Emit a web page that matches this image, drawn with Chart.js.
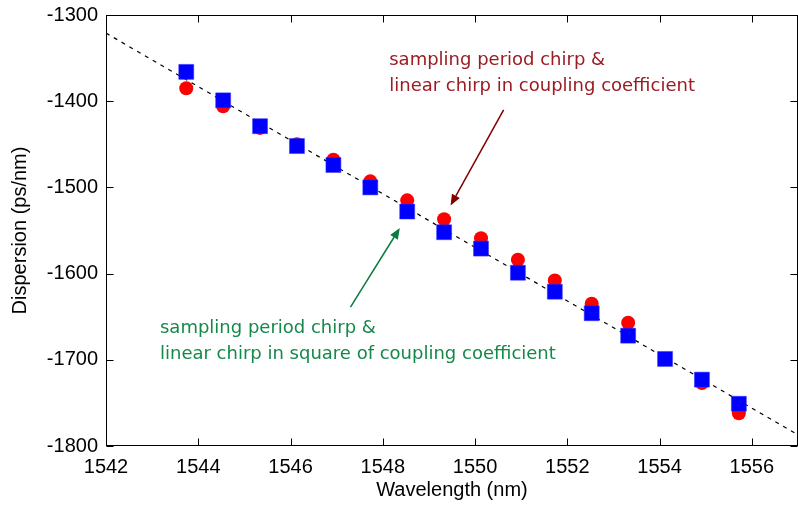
<!DOCTYPE html>
<html>
<head>
<meta charset="utf-8">
<script src="https://cdn.jsdelivr.net/npm/chart.js@4"></script>
<style>
  html, body { margin: 0; padding: 0; background: #fff; overflow: hidden; }
  #wrap { position: relative; width: 809px; height: 506px; }
</style>
</head>
<body>
<div id="wrap"><canvas id="myChart"></canvas></div>
<script>
// wavelengths of the sampled points (nm)
const wavelengths = [1543.74, 1544.54, 1545.34, 1546.14, 1546.93, 1547.73, 1548.53, 1549.33,
                     1550.13, 1550.93, 1551.73, 1552.53, 1553.32, 1554.12, 1554.92, 1555.72];
// red circles: linear chirp in coupling coefficient
const dispCoupling = [-1385, -1406, -1431, -1450, -1468, -1493, -1515, -1537,
                      -1559, -1584, -1608, -1635, -1657, -1699, -1727, -1762];
// blue squares: linear chirp in square of coupling coefficient
const dispSquare = [-1366, -1399, -1429, -1452, -1474, -1500, -1528, -1552,
                    -1571, -1599, -1621, -1646, -1672, -1699, -1723, -1751];
// dashed target line
const targetX = [1542, 1549.5, 1557];
const targetY = [-1321, -1554, -1787];

const xTicks = [1542, 1544, 1546, 1548, 1550, 1552, 1554, 1556];
const yTicks = [-1300, -1400, -1500, -1600, -1700, -1800];

const toPts = (xs, ys) => xs.map((x, i) => ({x: x, y: ys[i]}));

// box + inward ticks on all four sides, plus the two annotations
const matlabBox = {
    id: 'matlabBox',
    afterDraw(chart) {
        const ctx = chart.ctx;
        const a = chart.chartArea;
        const xs = chart.scales.x, ys = chart.scales.y;
        const L = Math.round(a.left) + 0.5, R = Math.round(a.right) - 0.5;
        const T = Math.round(a.top) + 0.5, B = Math.round(a.bottom) - 0.5;
        const tl = 7;
        ctx.save();
        ctx.strokeStyle = '#000';
        ctx.lineWidth = 1;
        ctx.strokeRect(L, T, R - L, B - T);
        ctx.beginPath();
        xTicks.forEach(v => {
            const px = Math.round(xs.getPixelForValue(v)) + 0.5;
            ctx.moveTo(px, B); ctx.lineTo(px, B - tl);
            ctx.moveTo(px, T); ctx.lineTo(px, T + tl);
        });
        yTicks.forEach(v => {
            const py = Math.round(ys.getPixelForValue(v)) + 0.5;
            ctx.moveTo(L, py); ctx.lineTo(L + tl, py);
            ctx.moveTo(R, py); ctx.lineTo(R - tl, py);
        });
        ctx.stroke();

        const arrow = (x0, y0, x1, y1, color) => {
            const p0x = xs.getPixelForValue(x0), p0y = ys.getPixelForValue(y0);
            const p1x = xs.getPixelForValue(x1), p1y = ys.getPixelForValue(y1);
            const ang = Math.atan2(p1y - p0y, p1x - p0x);
            const hl = 11, hw = 4.5;
            ctx.strokeStyle = color;
            ctx.fillStyle = color;
            ctx.lineWidth = 1.5;
            ctx.beginPath();
            ctx.moveTo(p0x, p0y);
            ctx.lineTo(p1x - hl * Math.cos(ang), p1y - hl * Math.sin(ang));
            ctx.stroke();
            ctx.beginPath();
            ctx.moveTo(p1x, p1y);
            ctx.lineTo(p1x - hl * Math.cos(ang) + hw * Math.sin(ang), p1y - hl * Math.sin(ang) - hw * Math.cos(ang));
            ctx.lineTo(p1x - hl * Math.cos(ang) - hw * Math.sin(ang), p1y - hl * Math.sin(ang) + hw * Math.cos(ang));
            ctx.closePath();
            ctx.fill();
        };
        const label = (x, y, lines, color) => {
            ctx.fillStyle = color;
            ctx.font = '18px "DejaVu Sans"';
            ctx.textAlign = 'left';
            ctx.textBaseline = 'alphabetic';
            const px = xs.getPixelForValue(x), py = ys.getPixelForValue(y);
            lines.forEach((t, i) => ctx.fillText(t, px, py + i * 26));
        };

        arrow(1550.62, -1410, 1549.47, -1521, '#800000');
        label(1548.14, -1358, ['sampling period chirp &', 'linear chirp in coupling coefficient'], '#9b1c22');
        arrow(1547.30, -1639, 1548.37, -1547, '#0a7a3e');
        label(1543.17, -1669, ['sampling period chirp &', 'linear chirp in square of coupling coefficient'], '#14894a');
        ctx.restore();
    }
};

const noPad = s => { s.paddingTop = 0; s.paddingBottom = 0; s.paddingLeft = 0; s.paddingRight = 0; };

const ctx = document.getElementById('myChart').getContext('2d');
const myChart = new Chart(ctx, {
    type: 'scatter',
    data: {
        datasets: [{
            label: 'square of coupling coefficient',
            data: toPts(wavelengths, dispSquare),
            pointStyle: 'rect',
            pointRadius: 10.6,
            backgroundColor: '#0000ff',
            borderColor: '#3333ff',
            borderWidth: 0.5,
            order: 0
        }, {
            label: 'coupling coefficient',
            data: toPts(wavelengths, dispCoupling),
            pointStyle: 'circle',
            pointRadius: 7,
            backgroundColor: '#ff0000',
            borderColor: '#ff0000',
            borderWidth: 0,
            order: 1
        }, {
            label: 'target',
            type: 'line',
            data: toPts(targetX, targetY),
            borderColor: '#000',
            borderWidth: 1.2,
            borderDash: [4, 5],
            pointRadius: 0,
            fill: false,
            order: 2
        }]
    },
    options: {
        responsive: true,
        maintainAspectRatio: false,
        animation: false,
        layout: { padding: { top: 15, right: 0, bottom: 0, left: 0 } },
        plugins: { legend: { display: false }, tooltip: { enabled: false } },
        scales: {
            x: {
                type: 'linear',
                min: 1542,
                max: 1557,
                afterBuildTicks: s => { s.ticks = xTicks.map(v => ({value: v})); },
                afterFit: s => { s.height = 60; noPad(s); },
                grid: { display: false, drawTicks: false },
                border: { display: false },
                ticks: { color: '#000', padding: 9, font: { family: '"Liberation Sans"', size: 20 },
                         callback: v => String(v) },
                title: { display: true, text: 'Wavelength (nm)', color: '#000',
                         font: { family: '"Liberation Sans"', size: 20 }, padding: { top: 0, bottom: 4 } }
            },
            y: {
                min: -1800,
                max: -1300,
                afterBuildTicks: s => { s.ticks = yTicks.map(v => ({value: v})); },
                afterFit: s => { s.width = 106; noPad(s); },
                grid: { display: false, drawTicks: false },
                border: { display: false },
                ticks: { color: '#000', padding: 8, font: { family: '"Liberation Sans"', size: 20 },
                         callback: v => String(v) },
                title: { display: true, text: 'Dispersion (ps/nm)', color: '#000',
                         font: { family: '"Liberation Sans"', size: 20 }, padding: { top: 8, bottom: 0 } }
            }
        }
    },
    plugins: [matlabBox]
});
</script>
</body>
</html>
